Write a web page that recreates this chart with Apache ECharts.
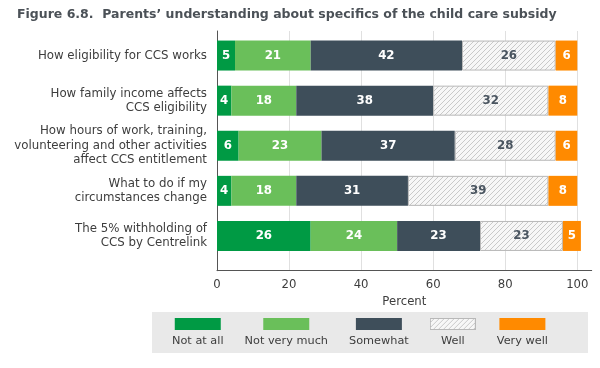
<!DOCTYPE html>
<html><head><meta charset="utf-8">
<script src="https://cdn.jsdelivr.net/npm/echarts@6/dist/echarts.min.js"></script>
<style>html,body{margin:0;padding:0;background:#fff}#c{width:600px;height:368px}</style>
</head><body><div id="c"></div>
<script>
var categories = [
  'How eligibility for CCS works',
  'How family income affects\nCCS eligibility',
  'How hours of work, training,\nvolunteering and other activities\naffect CCS entitlement',
  'What to do if my\ncircumstances change',
  'The 5% withholding of\nCCS by Centrelink'
];
var seriesNames = ['Not at all', 'Not very much', 'Somewhat', 'Well', 'Very well'];
var notAtAll    = [5, 4, 6, 4, 26];
var notVeryMuch = [21, 18, 23, 18, 24];
var somewhat    = [42, 38, 37, 31, 23];
var well        = [26, 32, 28, 39, 23];
var veryWell    = [6, 8, 6, 8, 5];
var xTicks = { min: 0, max: 104, interval: 20 };

var FONT = '"DejaVu Sans", sans-serif';
var TXT = '#3d3d3d';

function hatchTile() {
  var c = document.createElement('canvas');
  c.width = 5; c.height = 5;
  var g = c.getContext('2d');
  g.fillStyle = '#f7f7f7'; g.fillRect(0, 0, 5, 5);
  g.strokeStyle = '#c9c9c9'; g.lineWidth = 1;
  g.beginPath();
  g.moveTo(-1, 6); g.lineTo(6, -1);
  g.stroke();
  return c;
}
function hatchSwatch() {
  var c = document.createElement('canvas');
  c.width = 46; c.height = 12;
  var g = c.getContext('2d');
  g.fillStyle = g.createPattern(hatchTile(), 'repeat');
  g.fillRect(0, 0, 46, 12);
  g.strokeStyle = '#b8b8b8'; g.lineWidth = 1;
  g.strokeRect(0.5, 0.5, 45, 11);
  return c;
}
var hatch = hatchTile();
var colors = ['#009a44', '#6abf5a', '#3e4e5a', { image: hatch, repeat: 'repeat' }, '#ff8a00'];
var swatchBg = ['#009a44', '#6abf5a', '#3e4e5a', { image: hatchSwatch() }, '#ff8a00'];
var dataSets = [notAtAll, notVeryMuch, somewhat, well, veryWell];

var rich = { t: { fontFamily: FONT, fontSize: 11.3, color: TXT, lineHeight: 23, align: 'center' } };
seriesNames.forEach(function (n, i) {
  rich['s' + i] = { width: 46, height: 12, lineHeight: 12, backgroundColor: swatchBg[i], align: 'center' };
});

var series = seriesNames.map(function (name, i) {
  return {
    name: name, type: 'bar', stack: 'total', xAxisIndex: 0, yAxisIndex: 0,
    barWidth: 30,
    data: dataSets[i],
    itemStyle: i === 3 ? { color: colors[i], borderColor: '#b8b8b8', borderWidth: 1 } : { color: colors[i] },
    label: {
      show: true, position: 'inside', formatter: '{c}',
      fontFamily: FONT, fontSize: 11.8, fontWeight: 'bold',
      color: i === 3 ? '#4a5560' : '#ffffff'
    },
    emphasis: { disabled: true }
  };
});

var chart = echarts.init(document.getElementById('c'), null, { renderer: 'canvas' });
chart.setOption({
  animation: false,
  title: {
    text: 'Figure 6.8.  Parents\u2019 understanding about specifics of the child care subsidy',
    left: 12, top: 3,
    textStyle: { fontFamily: FONT, fontSize: 12.5, fontWeight: 'bold', color: '#4b5157' }
  },
  legend: {
    data: seriesNames,
    left: 152, top: 312,
    icon: 'none', itemWidth: 0, itemHeight: 0, itemGap: 16,
    selectedMode: false,
    backgroundColor: '#e9e9e9',
    padding: [6, 40, 6, 15],
    formatter: function (name) {
      var i = seriesNames.indexOf(name);
      return '{s' + i + '|}\n{t|' + name + '}';
    },
    textStyle: { rich: rich }
  },
  grid: [
    { left: 217, right: 8.3, top: 33, height: 225.5 },
    { left: 217, right: 8.3, top: 31, bottom: 97.3 }
  ],
  xAxis: [
    { gridIndex: 0, type: 'value', min: xTicks.min, max: xTicks.max, interval: xTicks.interval, show: false },
    {
      gridIndex: 1, type: 'value', min: xTicks.min, max: xTicks.max, interval: xTicks.interval,
      axisLine: { show: true, lineStyle: { color: '#555', width: 1 } },
      axisTick: { show: false },
      splitLine: { show: true, showMinLine: false, showMaxLine: false, lineStyle: { color: '#e0e0e0' } },
      axisLabel: { fontFamily: FONT, fontSize: 11.7, color: TXT, margin: 8, showMaxLabel: false },
      name: 'Percent', nameLocation: 'middle', nameGap: 24,
      nameTextStyle: { fontFamily: FONT, fontSize: 11.7, color: TXT }
    }
  ],
  yAxis: [
    {
      gridIndex: 0, type: 'category', inverse: true, data: categories,
      axisLine: { show: false }, axisTick: { show: false },
      axisLabel: { fontFamily: FONT, fontSize: 11.8, color: TXT, margin: 10, lineHeight: 14.4 }
    },
    {
      gridIndex: 1, type: 'value', min: 0, max: 1,
      axisLine: { show: true, lineStyle: { color: '#555', width: 1 } },
      axisTick: { show: false }, axisLabel: { show: false }, splitLine: { show: false }
    }
  ],
  series: series
});
</script></body></html>
